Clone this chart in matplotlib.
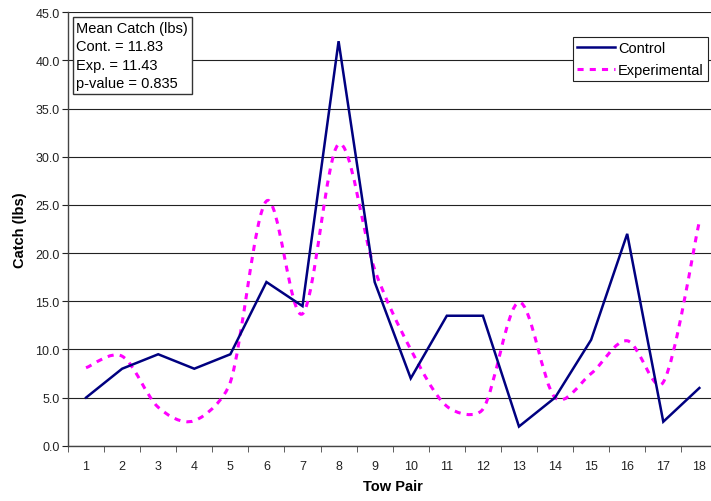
import matplotlib
matplotlib.use("Agg")
import matplotlib.pyplot as plt
import numpy as np
from matplotlib.path import Path
from matplotlib.patches import PathPatch
from matplotlib.lines import Line2D

plt.rcParams['font.family'] = ['Liberation Sans', 'DejaVu Sans']

tow_pairs = list(range(1, 19))
control = [5, 8, 9.5, 8, 9.5, 17, 14.5, 42, 17, 7, 13.5, 13.5, 2, 5, 11, 22, 2.5, 6]
experimental = [8.1, 9.3, 4.0, 2.6, 6.6, 25.4, 13.7, 31.3, 18.3, 10.0, 4.1, 3.8, 14.9, 5.0, 7.5, 10.9, 6.6, 23.3]
yticks = np.arange(0, 45.1, 5)
box_text = "Mean Catch (lbs)\nCont. = 11.83\nExp. = 11.43\np-value = 0.835"

W, H = 711, 502
fig = plt.figure(figsize=(W/100, H/100), dpi=100)
ax_rect = [68/W, 0.110, (717.4-68)/W, 0.8635]
ax = fig.add_axes(ax_rect)

ax.set_xlim(0.5, 18.5)
ax.set_ylim(0, 45)
for yv in yticks:
    ax.axhline(yv, color='#222222', lw=0.8, zorder=1)

ax.plot(tow_pairs, control, color='#000080', lw=1.8, zorder=3, label='Control', solid_joinstyle='miter')

# smoothed experimental line (spreadsheet-style Bezier smoothing, computed in pixel units)
sx = ax_rect[2] * W / 18.0      # pixels per category
sy = ax_rect[3] * H / 45.0      # pixels per unit
P = np.column_stack([np.array(tow_pairs, float) * sx, np.array(experimental, float) * sy])
n = len(P)
verts = [tuple(P[0])]
codes = [Path.MOVETO]
f = 1/6.0
for i in range(n - 1):
    p0 = P[max(i-1, 0)]; p1 = P[i]; p2 = P[i+1]; p3 = P[min(i+2, n-1)]
    d12 = np.linalg.norm(p2 - p1)
    t1 = (p2 - p0) * f
    t2 = (p3 - p1) * f
    lim = d12 / 3.0
    if np.linalg.norm(t1) > lim:
        t1 = t1 / np.linalg.norm(t1) * lim
    if np.linalg.norm(t2) > lim:
        t2 = t2 / np.linalg.norm(t2) * lim
    c1 = p1 + t1
    c2 = p2 - t2
    verts += [tuple(c1), tuple(c2), tuple(p2)]
    codes += [Path.CURVE4] * 3
verts = [(vx / sx, vy / sy) for vx, vy in verts]
patch = PathPatch(Path(verts, codes), facecolor='none', edgecolor='#FF00FF', lw=2.2,
                  linestyle=(0, (2, 2)), zorder=2)
ax.add_patch(patch)

ax.set_xticks(tow_pairs)
ax.set_xticklabels([str(t) for t in tow_pairs])
ax.set_xticks(np.arange(0.5, 18.6, 1), minor=True)
ax.tick_params(axis='x', which='major', length=0, pad=10, labelsize=9, colors='#222222')
ax.tick_params(axis='x', which='minor', length=4, direction='out', color='#444444')
ax.set_yticks(yticks)
ax.set_yticklabels([f"{v:.1f}" for v in yticks])
ax.tick_params(axis='y', length=4, direction='out', labelsize=9, colors='#222222', pad=2)

for s in ['top', 'right']:
    ax.spines[s].set_visible(False)
for s in ['left', 'bottom']:
    ax.spines[s].set_color('#444444')
    ax.spines[s].set_linewidth(1.0)

ax.set_xlabel('Tow Pair', fontsize=10.5, fontweight='bold', labelpad=5)
ax.set_ylabel('Catch (lbs)', fontsize=10.5, fontweight='bold', labelpad=6)

fig.text(76.5/W, 1 - 22/H, box_text, fontsize=10.5, va='top', ha='left', linespacing=1.4,
         bbox=dict(boxstyle='square,pad=0.25', facecolor='white', edgecolor='#333333', lw=1.0))

handles = [Line2D([], [], color='#000080', lw=1.8),
           Line2D([], [], color='#FF00FF', lw=2.2, linestyle=(0, (2, 2)))]
leg = fig.legend(handles, ['Control', 'Experimental'], loc='upper left',
                 bbox_to_anchor=(573/W, 1 - 38/H), fontsize=10.5, frameon=True,
                 fancybox=False, edgecolor='#222222', framealpha=1, borderpad=0.3,
                 handlelength=2.6, handletextpad=0.2, labelspacing=0.5, borderaxespad=0)
leg.get_frame().set_linewidth(0.8)

fig.savefig('out.png', dpi=100)
